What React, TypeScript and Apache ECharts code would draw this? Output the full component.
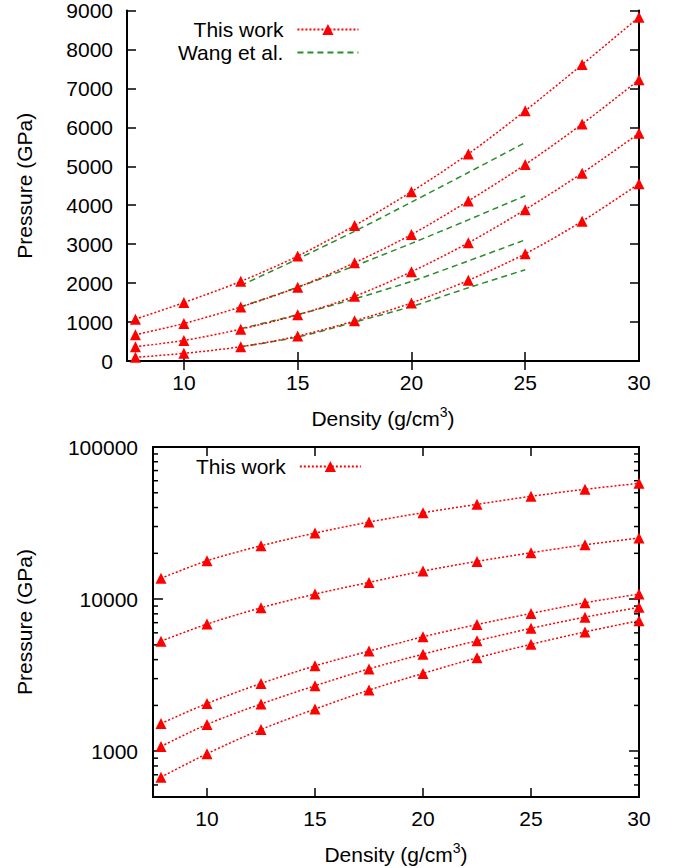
import React, { useEffect, useRef } from 'react';
import * as echarts from 'echarts';

// Density values (g/cm^3)
const density = [7.87, 10, 12.5, 15, 17.5, 20, 22.5, 25, 27.5, 30];
const wangDensity = [12.5, 15, 17.5, 20, 22.5, 25];

// This work: curves shown in top (linear) panel (GPa)
const work1 = [1075, 1500, 2045, 2693, 3477, 4347, 5318, 6426, 7611, 8829];
const work2 = [675, 963, 1389, 1892, 2523, 3247, 4110, 5045, 6086, 7219];
const work3 = [366, 528, 818, 1185, 1662, 2293, 3034, 3886, 4824, 5847];
const work4 = [94, 196, 366, 639, 1031, 1491, 2071, 2753, 3588, 4551];

// This work: additional curves shown in bottom (log) panel (GPa)
const workHigh1 = [13700, 17860, 22430, 27170, 32100, 36980, 41980, 47400, 52700, 57700];
const workHigh2 = [5290, 6850, 8770, 10790, 12880, 15290, 17700, 20170, 22770, 25190];
const workHigh3 = [1520, 2060, 2790, 3640, 4550, 5650, 6810, 8050, 9460, 10790];

// Wang et al. (GPa)
const wang1 = [1940, 2620, 3330, 4080, 4840, 5610];
const wang2 = [1389, 1895, 2440, 3020, 3625, 4244];
const wang3 = [830, 1190, 1595, 2045, 2570, 3111];
const wang4 = [366, 615, 1000, 1400, 1880, 2344];

// Axis ticks
const xTickLabels = [10, 15, 20, 25, 30];
const xTickMarks = [10, 15, 20, 25];
const logMinorTicks = [600, 700, 800, 900, 2000, 3000, 4000, 5000, 6000, 7000, 8000, 9000,
  20000, 30000, 40000, 50000, 60000, 70000, 80000, 90000];

const X_MIN = 7.5;
const X_MAX = 30;

const FONT = "'Liberation Sans', Arial, Helvetica, sans-serif";
const RED = '#ff0000';
const GREEN = '#2a8c2a';

export default function App() {
  const ref = useRef<HTMLDivElement>(null);

  useEffect(() => {
    document.body.style.margin = '0';
    const chart = echarts.init(ref.current!, null, { renderer: 'svg' });

    const axisLine = { show: true, lineStyle: { color: '#000', width: 2 } };
    const tick = { show: true, inside: true, length: 9, lineStyle: { color: '#000', width: 1.5 } };
    const labelStyle = { color: '#000', fontSize: 21, fontFamily: FONT };
    const nameStyle = {
      color: '#000', fontSize: 21, fontFamily: FONT, lineHeight: 26,
      rich: { sup: { fontSize: 14, lineHeight: 14, verticalAlign: 'top', fontFamily: FONT, color: '#000' } },
    };

    const makeX = (gridIndex: number) => [
      {
        type: 'value', gridIndex, position: 'bottom', min: X_MIN, max: X_MAX,
        axisLine, splitLine: { show: false },
        axisTick: { ...tick, customValues: xTickMarks },
        axisLabel: { ...labelStyle, margin: 11, customValues: xTickLabels, formatter: (v: number) => String(v) },
        name: 'Density (g/cm{sup|3})', nameLocation: 'middle', nameGap: 44, nameTextStyle: nameStyle,
      },
      {
        type: 'value', gridIndex, position: 'top', min: X_MIN, max: X_MAX,
        axisLine, splitLine: { show: false },
        axisTick: { ...tick, customValues: xTickMarks },
        axisLabel: { show: false },
      },
    ];

    const yName = {
      name: 'Pressure (GPa)', nameLocation: 'middle', nameRotate: 90,
      nameTextStyle: { color: '#000', fontSize: 21, fontFamily: FONT },
    };

    const yAxes = [
      {
        type: 'value', gridIndex: 0, position: 'left', min: 0, max: 9000, interval: 1000,
        axisLine, splitLine: { show: false }, axisTick: tick,
        axisLabel: { ...labelStyle, margin: 14, formatter: (v: number) => String(v) },
        ...yName, nameGap: 92,
      },
      {
        type: 'value', gridIndex: 0, position: 'right', min: 0, max: 9000, interval: 1000,
        axisLine, splitLine: { show: false }, axisTick: tick, axisLabel: { show: false },
      },
      {
        type: 'log', logBase: 10, gridIndex: 1, position: 'left', min: 500, max: 100000,
        axisLine, splitLine: { show: false }, axisTick: { ...tick, length: 10 },
        axisLabel: {
          ...labelStyle, margin: 15,
          formatter: (v: number) => (v < 900 ? '' : String(Math.round(v))),
        },
        ...yName, nameGap: 118,
      },
      {
        type: 'log', logBase: 10, gridIndex: 1, position: 'right', min: 500, max: 100000,
        axisLine, splitLine: { show: false }, axisTick: { ...tick, length: 10 }, axisLabel: { show: false },
      },
    ];

    const redSeries = (values: number[], xi: number, yi: number) => ({
      type: 'line', name: 'This work', xAxisIndex: xi, yAxisIndex: yi,
      data: density.map((d, i) => [d, values[i]]),
      symbol: 'triangle', symbolSize: 11, smooth: 0.3,
      itemStyle: { color: RED },
      lineStyle: { color: RED, width: 1.5, type: [2, 2] },
      z: 3,
    });
    const greenSeries = (values: number[]) => ({
      type: 'line', name: 'Wang et al.', xAxisIndex: 0, yAxisIndex: 0,
      data: wangDensity.map((d, i) => [d, values[i]]),
      symbol: 'none', smooth: 0.3,
      itemStyle: { color: GREEN },
      lineStyle: { color: GREEN, width: 1.5, type: [6, 4] },
      z: 2,
    });

    const legendCommon = {
      orient: 'vertical', align: 'right', itemWidth: 61, itemHeight: 14, itemGap: 2,
      padding: 0, selectedMode: false,
      textStyle: { color: '#000', fontSize: 21, fontFamily: FONT, padding: [0, 9, 0, 0] },
    };

    const option = {
      animation: false,
      backgroundColor: '#fff',
      grid: [
        { left: 127, right: 37, top: 9, height: 352 },
        { left: 153, right: 37, top: 447, height: 351 },
      ],
      xAxis: [...makeX(0), ...makeX(1)],
      yAxis: yAxes,
      legend: [
        {
          ...legendCommon,
          data: ['This work', { name: 'Wang et al.', itemStyle: { opacity: 0 } }],
          left: 178, top: 19,
        },
        { ...legendCommon, data: ['This work'], left: 196, top: 456 },
      ],
      series: [
        redSeries(work1, 0, 0),
        redSeries(work2, 0, 0),
        redSeries(work3, 0, 0),
        redSeries(work4, 0, 0),
        greenSeries(wang1),
        greenSeries(wang2),
        greenSeries(wang3),
        greenSeries(wang4),
        redSeries(workHigh1, 2, 2),
        redSeries(workHigh2, 2, 2),
        redSeries(workHigh3, 2, 2),
        redSeries(work1, 2, 2),
        redSeries(work2, 2, 2),
        {
          type: 'custom', xAxisIndex: 2, yAxisIndex: 2, silent: true, z: 1,
          encode: { x: 0, y: 1 },
          data: logMinorTicks.map((v) => [X_MIN, v]),
          renderItem: (_params: any, api: any) => {
            const v = api.value(1);
            const l = api.coord([X_MIN, v]);
            const r = api.coord([X_MAX, v]);
            const st = { stroke: '#000', lineWidth: 1.5 };
            return {
              type: 'group',
              children: [
                { type: 'line', shape: { x1: l[0], y1: l[1], x2: l[0] + 5, y2: l[1] }, style: st },
                { type: 'line', shape: { x1: r[0], y1: r[1], x2: r[0] - 5, y2: r[1] }, style: st },
              ],
            };
          },
        },
      ],
    };

    chart.setOption(option as any);
    return () => chart.dispose();
  }, []);

  return <div ref={ref} style={{ width: 676, height: 868 }} />;
}
